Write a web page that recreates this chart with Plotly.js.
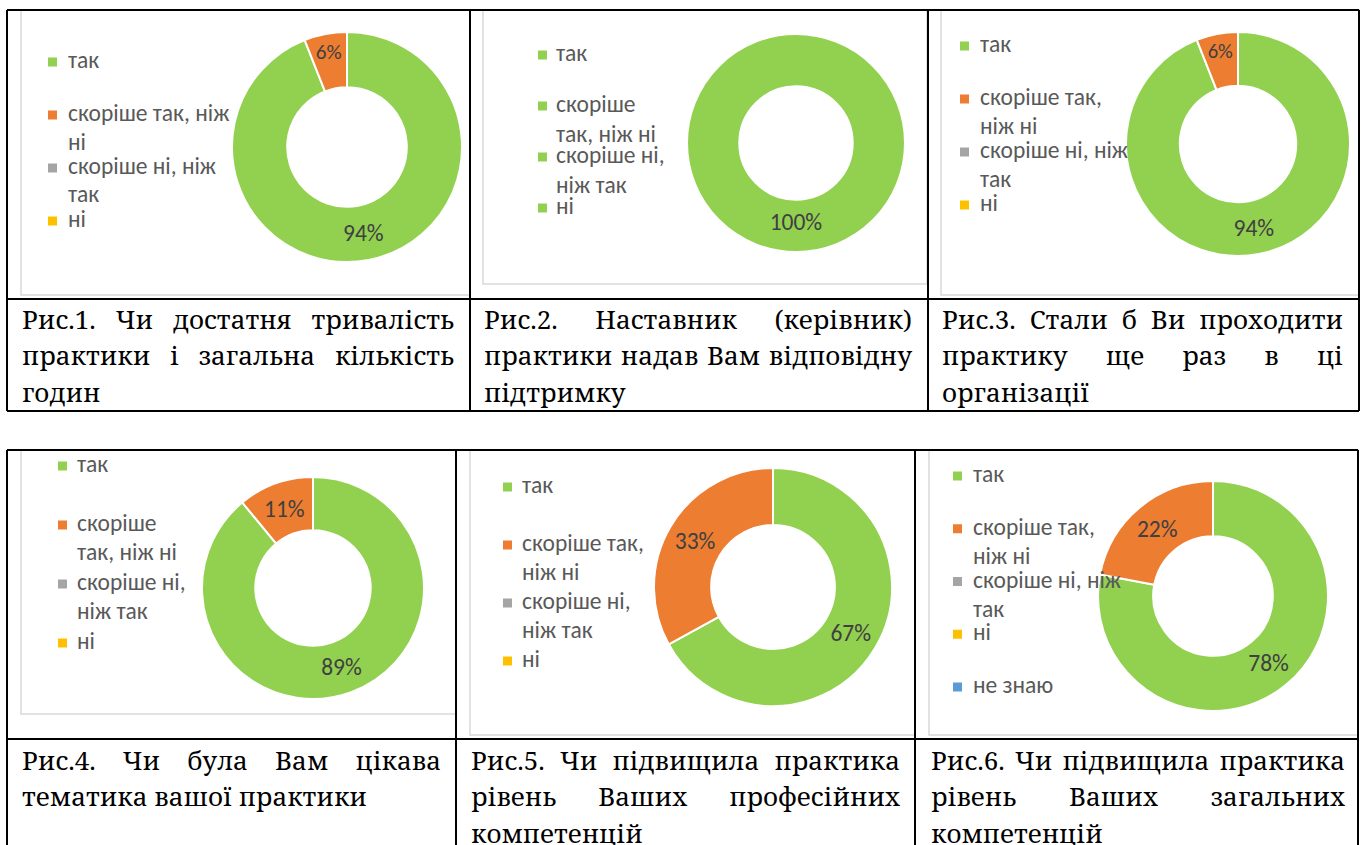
<!DOCTYPE html>
<html><head><meta charset="utf-8">
<script src="https://cdn.plot.ly/plotly-3.0.1.min.js"></script>
<style>
html,body{margin:0;padding:0;background:#fff}
#wrap{position:relative;width:1365px;height:845px;overflow:hidden}
#chart{position:absolute;left:0;top:0;width:1365px;height:845px}
.capline{position:absolute;white-space:nowrap;font-family:"Noto Serif","DejaVu Serif",serif;color:#000;
  line-height:36.7px;height:36.7px;text-align:left;z-index:5;pointer-events:none}
.capline.just{text-align:justify;text-align-last:justify}
</style>
</head><body><div id="wrap"><div id="chart"></div></div>
<script>
// ---------- data ----------
const categories = ['так', 'скоріше так, ніж ні', 'скоріше ні, ніж так', 'ні', 'не знаю'];
const sliceColors = ['#92D050', '#ED7D31', '#A5A5A5', '#FFC000', '#5B9BD5'];
const sliceColorsFig2 = ['#92D050', '#92D050', '#92D050', '#92D050'];

const values1 = [94, 6, 0, 0];
const values2 = [100, 0, 0, 0];
const values3 = [94, 6, 0, 0];
const values4 = [89, 11, 0, 0];
const values5 = [67, 33, 0, 0];
const values6 = [78, 22, 0, 0, 0];

const legendLines1 = [['так'], ['скоріше так, ніж', 'ні'], ['скоріше ні, ніж', 'так'], ['ні']];
const legendLines2 = [['так'], ['скоріше', 'так, ніж ні'], ['скоріше ні,', 'ніж так'], ['ні']];
const legendLines3 = [['так'], ['скоріше так,', 'ніж ні'], ['скоріше ні, ніж', 'так'], ['ні']];
const legendLines4 = [['так'], ['скоріше', 'так, ніж ні'], ['скоріше ні,', 'ніж так'], ['ні']];
const legendLines5 = [['так'], ['скоріше так,', 'ніж ні'], ['скоріше ні,', 'ніж так'], ['ні']];
const legendLines6 = [['так'], ['скоріше так,', 'ніж ні'], ['скоріше ні, ніж', 'так'], ['ні'], ['не знаю']];

const captionLines1 = ['Рис.1. Чи достатня тривалість', 'практики і загальна кількість', 'годин'];
const captionLines2 = ['Рис.2. Наставник (керівник)', 'практики надав Вам відповідну', 'підтримку'];
const captionLines3 = ['Рис.3. Стали б Ви проходити', 'практику ще раз в ці', 'організації'];
const captionLines4 = ['Рис.4. Чи була Вам цікава', 'тематика вашої практики'];
const captionLines5 = ['Рис.5. Чи підвищила практика', 'рівень Ваших професійних', 'компетенцій'];
const captionLines6 = ['Рис.6. Чи підвищила практика', 'рівень Ваших загальних', 'компетенцій'];

// ---------- layout geometry (pixels) ----------
const W = 1365, H = 845;
const panels = [
  {values: values1, colors: sliceColors, legend: legendLines1, caption: captionLines1,
   cx: 347, cy: 147, r: 115, box: [21, 10, 470, 295], leg: {sx: 48, tx: 66, y0: 62, slot: 53, lh: 28.5}, cap: {x0: 22, x1: 454, y0: 329}},
  {values: values2, colors: sliceColorsFig2, legend: legendLines2, caption: captionLines2,
   cx: 796, cy: 143, r: 109, box: [483, 10, 927, 284], leg: {sx: 538, tx: 554, y0: 55, slot: 51, lh: 29.5}, cap: {x0: 484, x1: 912, y0: 329}},
  {values: values3, colors: sliceColors, legend: legendLines3, caption: captionLines3,
   cx: 1238, cy: 144, r: 112, box: [941, 10, 1359, 295], leg: {sx: 960, tx: 978, y0: 46, slot: 53, lh: 29}, cap: {x0: 942, x1: 1343, y0: 329}},
  {values: values4, colors: sliceColors, legend: legendLines4, caption: captionLines4,
   cx: 313, cy: 588, r: 111, box: [21, 450, 456, 714], leg: {sx: 58, tx: 75, y0: 466, slot: 59, lh: 28.5}, cap: {x0: 22, x1: 441, y0: 770}},
  {values: values5, colors: sliceColors, legend: legendLines5, caption: captionLines5,
   cx: 773, cy: 587, r: 119, box: [470, 450, 915, 735], leg: {sx: 503, tx: 520, y0: 487, slot: 58, lh: 29}, cap: {x0: 471, x1: 900, y0: 770}},
  {values: values6, colors: sliceColors, legend: legendLines6, caption: captionLines6,
   cx: 1213, cy: 596, r: 115, box: [929, 450, 1358, 735], leg: {sx: 953, tx: 971, y0: 476, slot: 52.75, lh: 29}, cap: {x0: 931, x1: 1345, y0: 770}}
];

const px = x => x / W;
const py = y => 1 - y / H;

const LEG_FONT = 'Carlito';
const LEG_SIZE = 23.5;
const CAP_SIZE = 26;
const CAP_LH = 36.7;
const CAP_ASC = 1.069, CAP_DESC = 0.293;
const CAP_BASE_OFFSET = (CAP_LH - (CAP_ASC + CAP_DESC) * CAP_SIZE) / 2 + CAP_ASC * CAP_SIZE;

const data = [];
const shapes = [];
const annotations = [];
const wrap = document.getElementById('wrap');

panels.forEach(p => {
  // pie: only non-zero slices are drawn
  const labs = [], vals = [], cols = [];
  p.values.forEach((v, i) => { if (v > 0) { labs.push(categories[i]); vals.push(v); cols.push(p.colors[i]); } });
  data.push({
    type: 'pie', labels: labs, values: vals, sort: false, direction: 'clockwise', rotation: 0,
    hole: 0.52, showlegend: false,
    marker: {colors: cols, line: {color: '#ffffff', width: 2}},
    texttemplate: '%{percent:.0%}', textposition: 'inside', insidetextorientation: 'horizontal',
    textfont: {family: LEG_FONT, size: LEG_SIZE, color: '#404040'},
    domain: {x: [px(p.cx - p.r), px(p.cx + p.r)], y: [py(p.cy + p.r), py(p.cy - p.r)]},
    hoverinfo: 'label+percent'
  });
  // chart area border
  shapes.push({type: 'rect', xref: 'paper', yref: 'paper', x0: px(p.box[0]), x1: px(p.box[2]), y0: py(p.box[1]), y1: py(p.box[3]),
    line: {color: '#d9d9d9', width: 1.5}, layer: 'below'});
  // legend
  p.legend.forEach((lines, i) => {
    const yTop = p.leg.y0 + i * p.leg.slot;
    shapes.push({type: 'rect', xref: 'paper', yref: 'paper', x0: px(p.leg.sx), x1: px(p.leg.sx + 9),
      y0: py(yTop - 4.5), y1: py(yTop + 4.5), fillcolor: p.colors[i], line: {width: 0}});
    lines.forEach((t, k) => {
      annotations.push({xref: 'paper', yref: 'paper', x: px(p.leg.tx), y: py(yTop + k * p.leg.lh - 2),
        xanchor: 'left', yanchor: 'middle', text: t, showarrow: false,
        font: {family: LEG_FONT, size: LEG_SIZE, color: '#595959'}});
    });
  });
  // caption: justified lines (last line left-aligned), as page text over the chart
  p.caption.forEach((line, li) => {
    const d = document.createElement('div');
    d.className = 'capline' + (li < p.caption.length - 1 ? ' just' : '');
    d.textContent = line;
    d.style.left = p.cap.x0 + 'px';
    d.style.width = (p.cap.x1 - p.cap.x0) + 'px';
    d.style.top = (p.cap.y0 + li * CAP_LH - CAP_BASE_OFFSET) + 'px';
    d.style.fontSize = CAP_SIZE + 'px';
    wrap.appendChild(d);
  });
});

// table grid lines
const tableLines = [
  [7, 10, 1359, 10], [7, 299, 1359, 299], [7, 411, 1359, 411],
  [7, 10, 7, 411], [470, 10, 470, 411], [928, 10, 928, 411], [1359, 10, 1359, 411],
  [7, 450, 1358, 450], [7, 739, 1358, 739],
  [7, 450, 7, 845], [456, 450, 456, 845], [915, 450, 915, 845], [1358, 450, 1358, 845]
];
tableLines.forEach(l => shapes.push({type: 'line', xref: 'paper', yref: 'paper',
  x0: px(l[0]), y0: py(l[1]), x1: px(l[2]), y1: py(l[3]), line: {color: '#000000', width: 2}}));

const layout = {
  width: W, height: H, margin: {l: 0, r: 0, t: 0, b: 0},
  paper_bgcolor: '#ffffff', plot_bgcolor: '#ffffff',
  xaxis: {visible: false}, yaxis: {visible: false},
  showlegend: false, shapes: shapes, annotations: annotations
};
Plotly.newPlot('chart', data, layout, {displayModeBar: false, staticPlot: true});
</script></body></html>
